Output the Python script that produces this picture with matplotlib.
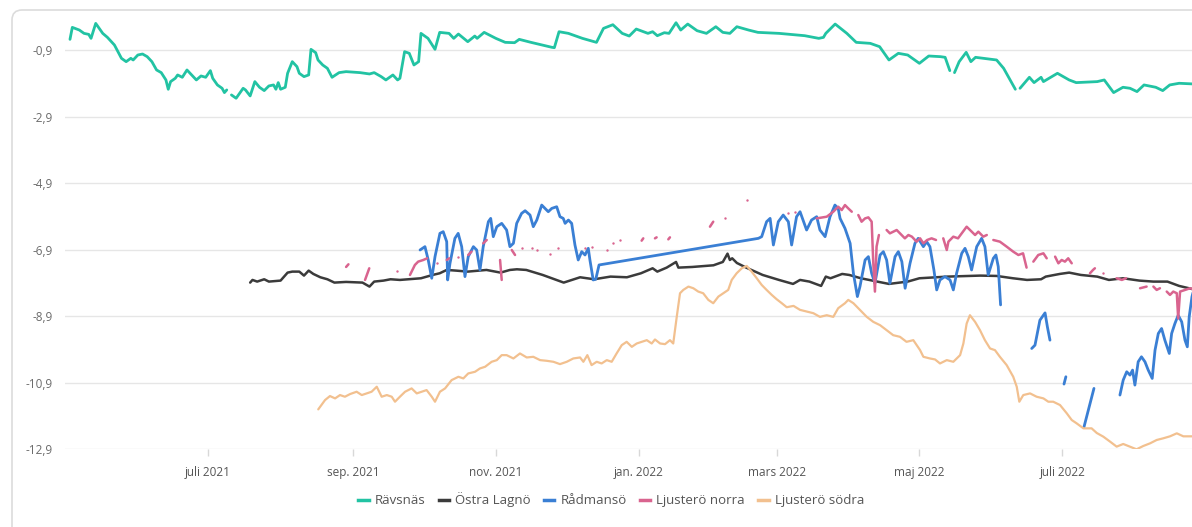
import numpy as np
import pandas as pd
import matplotlib
matplotlib.use("Agg")
import matplotlib.pyplot as plt
from matplotlib.patches import FancyBboxPatch
from matplotlib.lines import Line2D

nan = np.nan
START = pd.Timestamp("2021-05-01")   # dag 0

# ---- data: dagar sedan START, värde ----
ravsnas_day = [2, 3, 6, 8, 10, 11, 13, 14, 16, 18, 21, 24, 26, 28, 29, 31, 33, 35, 37, 39, 41, 43, 44, 45,
               47, 48, 50, 52, 54, 56, 58, 60, 62, 63, 65, 67, 68, 69, 70, 71, 73, 76, 77, 79, 81, 83, 85,
               87, 89, 90, 91, 92, 94, 95, 97, 99, 100, 102, 104, 105, 107, 108, 110, 112, 114, 117, 120,
               126, 130, 132, 135, 137, 140, 142, 143, 145, 147, 149, 151, 152, 155, 158, 160, 164, 166,
               168, 172, 175, 176, 179, 184, 188, 192, 194, 199, 208, 209, 211, 215, 221, 227, 230, 234,
               238, 241, 244, 249, 251, 253, 256, 258, 261, 263, 266, 270, 274, 278, 281, 284, 287, 292,
               296, 305, 316, 322, 324, 325, 329, 334, 338, 344, 348, 352, 356, 360, 365, 369, 374, 376,
               378, 379, 380, 382, 385, 387, 389, 398, 401, 405, 406, 407, 408, 412, 414, 417, 418, 424,
               429, 432, 441, 444, 448, 452, 455, 458, 461, 466, 469, 472, 476, 482]
ravsnas_val = [-0.58, -0.22, -0.30, -0.40, -0.43, -0.55, -0.10, -0.20, -0.40, -0.52, -0.75, -1.15, -1.25,
               -1.15, -1.20, -1.05, -1.02, -1.10, -1.25, -1.50, -1.58, -1.80, -2.08, -1.85, -1.75, -1.65,
               -1.72, -1.50, -1.65, -1.80, -1.68, -1.72, -1.52, -1.75, -1.95, -2.05, -2.18, -2.10, nan,
               -2.25, -2.35, -2.05, -2.10, -2.28, -1.85, -2.02, -2.12, -1.98, -1.95, -2.08, -1.88, -2.08,
               -2.02, -1.60, -1.25, -1.40, -1.60, -1.70, -1.65, -0.88, -0.98, -1.20, -1.35, -1.45, -1.72,
               -1.58, -1.55, -1.58, -1.62, -1.58, -1.70, -1.80, -1.65, -1.80, -1.75, -0.95, -1.00, -1.35,
               -1.25, -0.40, -0.55, -0.88, -0.37, -0.40, -0.55, -0.42, -0.65, -0.48, -0.55, -0.37, -0.55,
               -0.67, -0.68, -0.58, -0.67, -0.82, -0.83, -0.35, -0.40, -0.55, -0.67, -0.25, -0.14, -0.40,
               -0.48, -0.27, -0.40, -0.35, -0.47, -0.38, -0.40, -0.08, -0.30, -0.12, -0.32, -0.40, -0.20,
               -0.37, -0.40, -0.20, -0.30, -0.37, -0.40, -0.47, -0.55, -0.52, -0.40, -0.12, -0.40, -0.67,
               -0.70, -0.80, -1.20, -1.00, -1.05, -1.30, -1.08, -1.10, -1.12, -1.52, nan, -1.58, -1.25,
               -0.97, -1.25, -1.12, -1.20, -1.45, -1.95, -2.08, nan, -2.05, -1.72, -1.88, -1.72, -1.85,
               -1.60, -1.80, -1.88, -1.85, -1.80, -2.18, -2.02, -2.05, -2.15, -1.95, -2.02, -2.12, -1.95,
               -1.90, -1.92]

lagno_day = [79, 80, 82, 85, 87, 92, 95, 97, 100, 102, 104, 106, 109, 112, 115, 120, 127, 130, 132, 136,
             139, 143, 152, 157, 160, 163, 167, 172, 180, 186, 190, 193, 197, 204, 213, 220, 226, 233,
             240, 246, 251, 253, 257, 261, 262, 268, 277, 281, 283, 284, 285, 287, 291, 298, 305, 311,
             314, 318, 323, 325, 327, 332, 335, 340, 347, 352, 360, 365, 377, 391, 398, 405, 411, 417,
             419, 425, 429, 434, 441, 446, 452, 459, 465, 471, 476, 482]
lagno_val = [-7.89, -7.81, -7.86, -7.79, -7.86, -7.83, -7.59, -7.56, -7.56, -7.68, -7.53, -7.63, -7.73,
             -7.79, -7.89, -7.87, -7.89, -8.01, -7.86, -7.83, -7.79, -7.81, -7.76, -7.66, -7.61, -7.51,
             -7.53, -7.56, -7.51, -7.59, -7.51, -7.49, -7.51, -7.66, -7.89, -7.73, -7.79, -7.71, -7.73,
             -7.61, -7.46, -7.56, -7.44, -7.27, -7.44, -7.42, -7.37, -7.27, -7.02, -7.21, -7.16, -7.30,
             -7.44, -7.66, -7.81, -7.93, -7.81, -7.86, -7.99, -7.71, -7.76, -7.63, -7.66, -7.76, -7.86,
             -7.93, -7.86, -7.76, -7.71, -7.68, -7.69, -7.76, -7.81, -7.79, -7.71, -7.63, -7.59, -7.66,
             -7.71, -7.81, -7.76, -7.83, -7.86, -7.86, -7.99, -8.09]

radmanso_day = [151.6, 153.7, 155.1, 156.6, 158.0, 160.1, 161.5, 163.0, 163.4, 164.4, 166.5, 167.9, 169.4,
                170.8, 172.2, 174.4, 175.8, 177.2, 178.6, 180.8, 181.8, 182.9, 184.4, 186.5, 188.6, 190.0,
                191.5, 192.9, 195.0, 196.5, 198.6, 200.0, 201.5, 203.6, 205.0, 206.4, 207.9, 210.0, 211.4,
                212.8, 213.6, 215.0, 216.4, 217.8, 219.2, 220.7, 222.1, 223.5, 224.2, 225.6, 226.7, 228.1,
                296.2, 297.6, 299.7, 301.2, 302.6, 304.7, 306.8, 309.0, 310.4, 312.5, 314.0, 316.8, 318.9,
                321.1, 322.5, 324.7, 326.8, 328.9, 330.3, 331.1, 333.2, 335.4, 336.8, 338.5, 339.6, 341.8,
                343.2, 344.6, 346.0, 348.2, 349.6, 351.0, 352.4, 354.6, 356.0, 357.5, 358.9, 361.0, 363.1,
                364.5, 366.7, 368.1, 369.5, 371.2, 372.4, 373.8, 375.9, 378.1, 379.5, 380.9, 383.1, 384.5,
                385.9, 387.3, 389.5, 391.6, 393.0, 394.4, 396.6, 397.7, 398.7, 399.7, 400.5,
                413.0, 414.4, 416.5, 418.7, 419.7, 420.8, 421.5, 426.8, 427.6, 428.5, 435.3, 437.2, 439.6,
                441.0, 450.7, 452.1, 453.6, 455.0, 456.1, 457.1, 458.5, 459.9, 461.4, 462.8, 464.5, 465.7,
                467.1, 468.5, 469.9, 471.8, 472.8, 474.2, 475.6, 477.1, 478.5, 479.5, 480.3, 481.5, 483.0]
radmanso_val = [-6.91, -6.81, -7.21, -7.76, -7.11, -6.41, -6.36, -6.66, -7.81, -7.31, -6.56, -6.41, -6.81,
                -7.71, -7.11, -6.81, -6.91, -7.51, -6.81, -6.06, -5.96, -6.51, -6.21, -6.11, -6.31, -6.81,
                -6.71, -6.11, -5.81, -5.73, -5.86, -6.21, -6.01, -5.56, -5.66, -5.76, -5.66, -5.61, -5.91,
                -5.96, -6.11, -6.01, -6.11, -6.76, -7.21, -6.96, -7.06, -6.86, -7.21, -7.81, -7.79, -7.36,
                -6.56, -6.51, -6.06, -5.96, -6.76, -6.06, -5.86, -6.06, -6.76, -5.91, -5.76, -6.31, -6.01,
                -5.91, -6.31, -6.51, -5.91, -5.56, -5.66, -5.96, -6.26, -6.71, -7.61, -8.31, -8.01, -7.21,
                -7.11, -7.61, -7.91, -7.06, -6.96, -7.21, -7.91, -7.11, -6.96, -7.26, -8.06, -7.31, -6.71,
                -6.56, -6.81, -6.66, -6.81, -7.51, -8.11, -7.81, -7.71, -7.81, -8.11, -7.61, -7.01, -6.86,
                -7.11, -7.51, -6.81, -6.56, -6.81, -7.66, -7.16, -7.06, -7.41, -8.56, nan,
                -9.87, -9.77, -9.02, -8.80, -9.22, -9.62, nan, -10.94, -10.72, nan, -12.24, -11.72, -11.07,
                nan, -11.27, -10.82, -10.57, -10.67, -10.52, -10.97, -10.27, -10.12, -10.27, -10.52, -10.77,
                -9.92, -9.42, -9.27, -9.62, -10.02, -9.42, -9.12, -8.87, -9.07, -9.62, -9.82, -8.92, -8.31,
                -7.90]

norra_day = [120.0, 121.0, 124.0, 128.1, 129.9, 135.0, 141.6, 144.0, 147.3, 149.4, 150.8, 153.0, 154.6,
             156.5, 158.7, 161.0, 163.0, 164.1, 166.0, 167.9, 170.0, 172.2, 173.6, 176.0, 178.6, 180.1,
             183.0, 185.8, 186.5, 188.5, 190.8, 192.2, 193.5, 195.0, 197.0, 199.3, 200.3, 201.4, 204.0,
             207.1, 209.0, 210.7, 216.0, 222.1, 223.5, 225.0, 228.0, 231.4, 233.0, 234.2, 235.5, 237.0,
             242.0, 246.3, 247.0, 249.5, 252.0, 252.7, 255.0, 257.7, 258.4, 267.0, 275.5, 276.9, 279.5,
             281.9, 287.0, 291.2, 300.0, 309.0, 310.5, 311.9, 316.0,
             321.1, 325.4, 328.2, 330.3, 331.8, 333.2, 334.6, 336.1, 337.5,
             338.9, 340.3, 341.8, 343.2, 344.6, 345.3, 346.0, 346.7, 347.7, 349.3,
             351.0, 352.4, 353.8, 355.3, 356.7, 358.8, 360.3, 361.8, 363.8, 365.3, 366.7, 368.3, 370.2,
             372.1, 373.6,
             375.2, 376.7, 377.4, 379.5, 381.5, 383.1, 385.2, 387.4, 388.8, 390.2, 392.3, 393.8, 395.2,
             396.6, 399.4, 402.3, 405.1, 407.3, 409.3, 410.8, 412.2,
             413.7, 415.8, 418.0, 419.4, 421.2,
             423.0, 424.4, 425.8, 427.2, 428.6, 430.1, 434.0,
             437.9, 439.2, 440.0, 442.0, 443.6, 446.5, 449.3, 451.5, 453.3, 456.3, 459.3, 462.1, 463.5,
             465.0, 466.4, 467.8, 469.2, 470.7, 472.1, 473.5, 475.0, 475.6, 476.4, 478.5, 480.7, 482.8]
norra_val = [-7.42, -7.34, nan, -7.81, -7.46, nan, -7.54, nan, -7.66, -7.36, -7.26, -7.21, -7.16,
             nan, -7.31, nan, -7.21, -7.16, nan, -7.11, nan, -7.06, -6.96, nan, -6.71, -6.61,
             nan, -7.21, -7.81, nan, -6.91, -7.06, nan, -6.86, nan, -6.86, nan, -6.91, nan,
             -7.02, nan, -6.86, nan, -6.86, nan, -6.81, nan, -6.91, nan, -6.71, nan, -6.61,
             nan, -6.63, -6.56, nan, -6.56, -6.53, nan, -6.59, -6.53, nan, -6.21, -6.06, nan,
             -5.96, nan, -5.41, nan, -5.81, nan, -5.76, nan,
             -5.96, -5.91, -5.76, -5.61, -5.71, -5.56, -5.66, -5.76, nan,
             -5.86, -6.06, -5.96, -5.93, -6.06, -7.31, -8.16, -6.81, -6.46, nan,
             -6.31, -6.41, -6.36, -6.31, -6.41, -6.56, -6.46, -6.51, -6.66, -6.56, -6.71, -6.61, -6.56,
             -6.61, nan,
             -6.56, -6.91, -6.66, -6.51, -6.56, -6.41, -6.21, -6.36, -6.46, -6.36, -6.51, -6.46, nan,
             -6.61, -6.66, -6.81, -6.96, -7.06, -7.01, -7.44, nan,
             -7.26, -7.06, -7.01, -7.16, nan,
             -7.11, -7.31, -7.21, -7.26, -7.16, -7.31, nan,
             -7.61, -7.51, -7.46, nan, -7.61, nan, -7.76, -7.81, -7.76, nan, -8.06, -8.01, nan,
             -8.01, -8.11, -8.06, nan, -8.16, -8.26, -8.16, -8.21, -8.97, -8.16, -8.11, -8.06, -8.11]

sodra_day = [108.1, 111.0, 113.1, 115.3, 117.4, 119.5, 121.7, 124.5, 126.7, 128.8, 130.9, 133.1, 135.2,
             137.4, 139.5, 140.9, 143.0, 145.2, 148.0, 150.2, 152.3, 154.4, 156.6, 158.0, 160.1, 162.3,
             165.1, 168.0, 170.1, 172.2, 175.1, 177.2, 179.4, 182.2, 184.4, 186.5, 188.6, 191.5, 194.3,
             197.2, 200.0, 202.9, 205.7, 208.6, 211.4, 214.3, 217.1, 220.0, 221.4, 223.1, 224.9, 227.1,
             229.2, 231.4, 233.5, 235.6, 237.8, 239.9, 242.1, 244.2, 246.3, 248.5, 250.6, 252.0, 254.2,
             256.3, 258.4, 259.8, 261.3, 262.7, 264.1, 266.3, 268.4, 270.5, 272.6, 274.8, 276.9, 279.1,
             281.2, 283.3, 284.8, 286.9, 289.1, 291.2, 293.3, 295.5, 297.6, 299.7, 301.9, 304.0, 306.2,
             308.3, 311.2, 314.0, 316.9, 319.7, 322.5, 325.4, 328.2, 330.3, 333.2, 334.6, 336.8, 339.6,
             342.5, 345.3, 348.2, 351.0, 353.8, 356.7, 359.5, 362.4, 365.3, 366.7, 369.5, 371.7, 373.8,
             376.7, 379.5, 382.4, 383.8, 385.2, 386.6, 388.8, 390.9, 393.0, 395.2, 397.3, 399.4, 402.3,
             405.1, 406.6, 407.7, 409.4, 412.3, 415.1, 418.0, 420.1, 422.2, 425.1, 428.0, 430.1, 432.2,
             435.1, 438.6, 440.8, 443.6, 446.5, 449.3, 452.1, 455.0, 457.8, 460.7, 463.6, 466.4, 469.2,
             472.1, 475.0, 477.8, 481.5]
sodra_val = [-11.70, -11.42, -11.30, -11.37, -11.27, -11.32, -11.24, -11.17, -11.27, -11.22, -11.17, -11.02,
             -11.32, -11.27, -11.32, -11.47, -11.32, -11.17, -11.07, -11.22, -11.17, -11.12, -11.32, -11.47,
             -11.17, -11.07, -10.82, -10.72, -10.77, -10.62, -10.57, -10.47, -10.42, -10.27, -10.22, -10.07,
             -10.07, -10.17, -10.02, -10.14, -10.12, -10.22, -10.24, -10.27, -10.34, -10.27, -10.17, -10.14,
             -10.27, -10.07, -10.37, -10.27, -10.32, -10.22, -10.27, -10.02, -9.77, -9.67, -9.82, -9.72,
             -9.67, -9.62, -9.72, -9.60, -9.72, -9.74, -9.62, -9.72, -8.92, -8.21, -8.11, -8.01, -8.06,
             -8.16, -8.21, -8.41, -8.51, -8.31, -8.21, -8.11, -7.81, -7.61, -7.46, -7.39, -7.56, -7.76,
             -7.96, -8.11, -8.26, -8.39, -8.51, -8.63, -8.59, -8.71, -8.76, -8.81, -8.92, -8.87, -8.92,
             -8.66, -8.51, -8.41, -8.51, -8.71, -8.92, -9.07, -9.17, -9.32, -9.47, -9.52, -9.67, -9.62,
             -9.92, -10.12, -10.17, -10.20, -10.32, -10.22, -10.27, -10.07, -9.72, -9.12, -8.87, -9.07,
             -9.32, -9.62, -9.87, -9.92, -10.12, -10.37, -10.72, -11.02, -11.47, -11.27, -11.22, -11.32,
             -11.37, -11.47, -11.47, -11.57, -11.82, -12.02, -12.12, -12.27, -12.27, -12.41, -12.52, -12.67,
             -12.82, -12.74, -12.82, -12.90, -12.80, -12.72, -12.62, -12.57, -12.51, -12.42, -12.51, -12.51]

series_names = ["Rävsnäs", "Östra Lagnö", "Rådmansö", "Ljusterö norra", "Ljusterö södra"]
series_colors = ["#22c3a3", "#3b3b3b", "#3a7fd4", "#d9648f", "#f2c08f"]

ytick_vals = [-0.9, -2.9, -4.9, -6.9, -8.9, -10.9, -12.9]
ytick_labels = ["-0,9", "-2,9", "-4,9", "-6,9", "-8,9", "-10,9", "-12,9"]
xtick_dates = ["2021-07-01", "2021-09-01", "2021-11-01", "2022-01-01", "2022-03-01", "2022-05-01", "2022-07-01"]
xtick_labels = ["juli 2021", "sep. 2021", "nov. 2021", "jan. 2022", "mars 2022", "maj 2022", "juli 2022"]

plt.rcParams["font.family"] = ["Open Sans", "DejaVu Sans"]


def to_dates(days):
    return START + pd.to_timedelta(np.asarray(days, dtype=float), unit="D")


W, H = 1192, 527
fig = plt.figure(figsize=(W / 100, H / 100), dpi=100)
fig.patch.set_facecolor("white")

# kortets ram
card = FancyBboxPatch((12 / 100, -0.3), 12.5, (H - 10) / 100 + 0.3,
                      boxstyle="round,pad=0,rounding_size=0.1", transform=fig.dpi_scale_trans,
                      facecolor="none", edgecolor="#dcdcdc", lw=1.2, zorder=0)
fig.patches.append(card)

left, bottom, top = 65.3 / W, (H - 449.3) / H, (H - 12) / H
ax = fig.add_axes([left, bottom, 1 - left, top - bottom])
ax.set_facecolor("none")

all_data = [(ravsnas_day, ravsnas_val), (lagno_day, lagno_val), (radmanso_day, radmanso_val),
            (norra_day, norra_val), (sodra_day, sodra_val)]
widths = [2.0, 1.8, 2.0, 1.8, 1.6]
for (d, v), name, col, lw in zip(all_data, series_names, series_colors, widths):
    x = to_dates(d)
    y = np.asarray(v, dtype=float)
    ax.plot(x, y, color=col, lw=lw, solid_joinstyle="round", solid_capstyle="round", zorder=3)
    # ensamma punkter (utan grannar) som små prickar
    ok = ~np.isnan(y)
    prev = np.r_[False, ok[:-1]]
    nxt = np.r_[ok[1:], False]
    lone = ok & ~prev & ~nxt
    if lone.any():
        ax.scatter(x[lone], y[lone], s=3, color=col, zorder=3, linewidths=0)

ax.set_xlim(START, START + pd.Timedelta(days=481.5))
ax.set_ylim(-12.9, -0.9 + 38 / 33.27)

ax.set_yticks(ytick_vals)
ax.set_yticklabels(ytick_labels)
ax.set_xticks(pd.to_datetime(xtick_dates))
ax.set_xticklabels(xtick_labels)
ax.tick_params(axis="y", length=0, pad=9, labelsize=8.5, labelcolor="#6b6b6b")
ax.tick_params(axis="x", length=5, width=1, color="#d8d8d8", pad=7, labelsize=8.5, labelcolor="#555555")
ax.grid(axis="y", color="#e6e6e6", lw=1)
ax.set_axisbelow(True)
for s in ax.spines.values():
    s.set_visible(False)

handles = [Line2D([], [], color=c, lw=2.5) for c in series_colors]
fig.legend(handles, series_names, loc="center", bbox_to_anchor=(611 / W, 1 - 500 / H), ncol=5,
           frameon=False, fontsize=9.5, handlelength=0.8, handletextpad=0.45, columnspacing=1.0,
           labelcolor="#555555")

fig.savefig("out.png", dpi=100)
